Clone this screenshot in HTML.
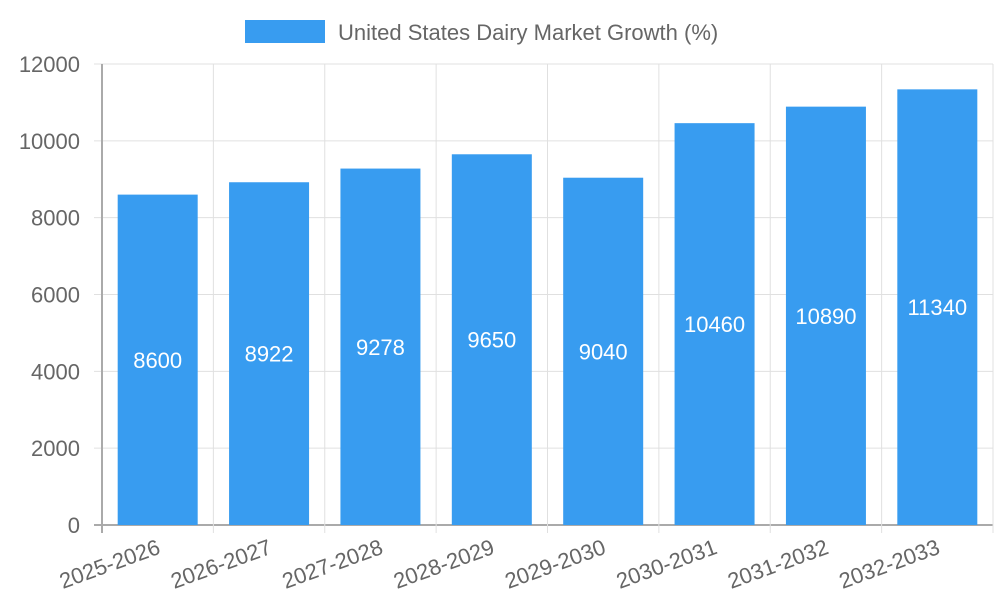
<!DOCTYPE html>
<html><head><meta charset="utf-8"><style>
body{margin:0;background:#fff;width:1000px;height:600px;overflow:hidden}
svg{font-family:"Liberation Sans",sans-serif}
</style></head><body>
<svg id="chart" width="1000" height="600">
<rect x="245" y="20" width="80" height="23" fill="#389cf0"/>
<text x="338" y="40" font-size="22" fill="#666">United States Dairy Market Growth (%)</text>
<g id="grid"></g><g id="bars"></g><g id="labels"></g>
</svg>
<script>
const categories=["2025-2026","2026-2027","2027-2028","2028-2029","2029-2030","2030-2031","2031-2032","2032-2033"];
const values=[8600,8922,9278,9650,9040,10460,10890,11340];
const yTicks=[0,2000,4000,6000,8000,10000,12000];
const NS="http://www.w3.org/2000/svg";
const L=102,R=993,T=64,B=525,yMax=12000;
const bw=(R-L)/categories.length;
const y=v=>B-(v/yMax)*(B-T);
const x=i=>L+i*bw;
function mk(tag,attrs,parent,text){const e=document.createElementNS(NS,tag);for(const k in attrs)e.setAttribute(k,attrs[k]);if(text!==undefined)e.textContent=text;document.getElementById(parent).appendChild(e);return e;}
yTicks.forEach(t=>{
 const g=mk("line",{x1:94,x2:R,y1:y(t),y2:y(t),stroke:t===0?"#aaa":"#e0e0e0","stroke-width":t===0?2:1},"grid");
 
 
 const tx=mk("text",{x:80,y:y(t)+8,"font-size":22,fill:"#666","text-anchor":"end"},"grid",t);
 
 
});
for(let i=0;i<=categories.length;i++){
 const g=mk("line",{x1:x(i),x2:x(i),y1:T,y2:B+8,stroke:i===0?"#aaa":"#e0e0e0","stroke-width":i===0?2:1},"grid");
 
 
}
categories.forEach((c,i)=>{
 const cx=x(i)+bw/2,w=80;
 const r=mk("rect",{x:cx-w/2,y:y(values[i]),width:w,height:B-y(values[i]),fill:"#389cf0"},"bars");
 
 
 const v=mk("text",{x:cx,y:(y(values[i])+B)/2+8,"font-size":22,fill:"#fff","text-anchor":"middle"},"labels",values[i]);
 
 
 const t=mk("text",{x:cx+4,y:B+28,"font-size":22,fill:"#666","text-anchor":"end",transform:`rotate(-20 ${cx+4} ${B+28})`},"labels",c);
 
 
});
</script>
</body></html>
